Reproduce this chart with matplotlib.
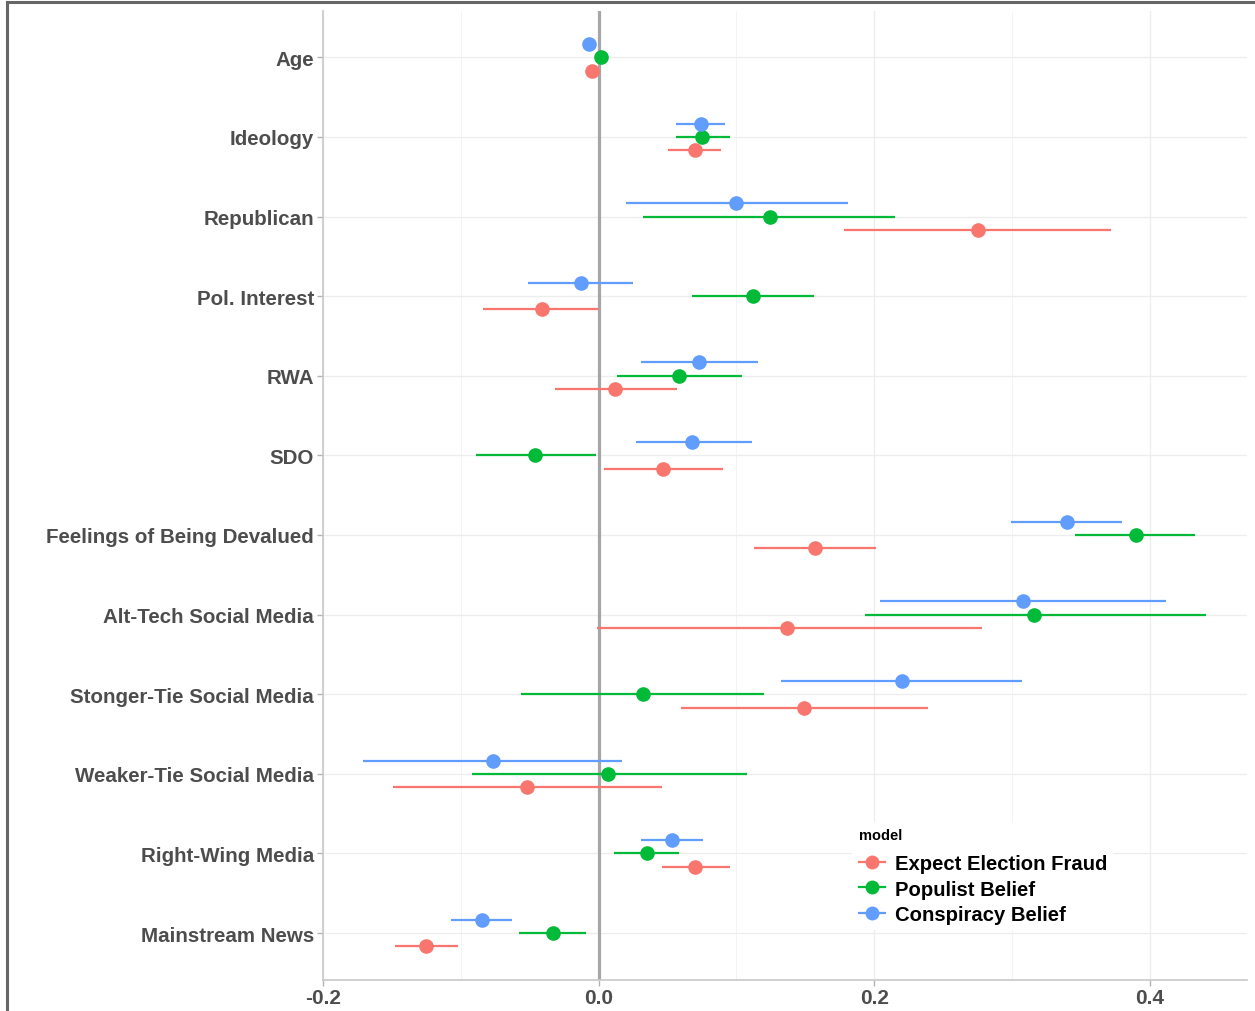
import matplotlib.pyplot as plt
import numpy as np
from matplotlib.lines import Line2D

plt.rcParams['font.family'] = ['Liberation Sans', 'DejaVu Sans']

# predictors, top to bottom
terms = ['Age', 'Ideology', 'Republican', 'Pol. Interest', 'RWA', 'SDO',
         'Feelings of Being Devalued', 'Alt-Tech Social Media',
         'Stonger-Tie Social Media', 'Weaker-Tie Social Media',
         'Right-Wing Media', 'Mainstream News']

models = ['Expect Election Fraud', 'Populist Belief', 'Conspiracy Belief']
colors = ['#F8766D', '#00BA38', '#619CFF']

# estimates and 95% CIs per model
fraud_est = [-0.005, 0.070, 0.275, -0.041, 0.012, 0.047, 0.157, 0.137, 0.149, -0.052, 0.070, -0.125]
fraud_lo = [-0.007, 0.050, 0.178, -0.084, -0.032, 0.004, 0.113, -0.001, 0.060, -0.149, 0.046, -0.148]
fraud_hi = [-0.003, 0.089, 0.372, 0.000, 0.057, 0.090, 0.201, 0.278, 0.239, 0.046, 0.095, -0.102]

populist_est = [0.0015, 0.075, 0.124, 0.112, 0.058, -0.046, 0.390, 0.316, 0.032, 0.007, 0.035, -0.033]
populist_lo = [0.000, 0.056, 0.032, 0.068, 0.013, -0.089, 0.346, 0.193, -0.056, -0.092, 0.011, -0.058]
populist_hi = [0.003, 0.095, 0.215, 0.156, 0.104, -0.002, 0.433, 0.441, 0.120, 0.108, 0.058, -0.009]

consp_est = [-0.007, 0.074, 0.100, -0.013, 0.073, 0.068, 0.340, 0.308, 0.220, -0.077, 0.053, -0.085]
consp_lo = [-0.009, 0.056, 0.020, -0.051, 0.031, 0.027, 0.299, 0.204, 0.132, -0.171, 0.031, -0.107]
consp_hi = [-0.005, 0.092, 0.181, 0.025, 0.116, 0.111, 0.380, 0.412, 0.307, 0.017, 0.076, -0.063]

series = [(fraud_est, fraud_lo, fraud_hi),
          (populist_est, populist_lo, populist_hi),
          (consp_est, consp_lo, consp_hi)]
offsets = [-0.167, 0.0, 0.167]

fig = plt.figure(figsize=(12.55, 10.12), dpi=100)
ax = fig.add_axes([0.2574, 0.0306, 0.7362, 0.9574])

ypos = np.arange(len(terms))[::-1] + 1

# grid
for v in [-0.1, 0.1, 0.3]:
    ax.axvline(v, color='#f4f4f4', lw=0.7, zorder=0)
for v in [-0.2, 0.2, 0.4]:
    ax.axvline(v, color='#ededed', lw=0.9, zorder=0)
for y in ypos:
    ax.axhline(y, color='#ededed', lw=0.9, zorder=0)

ax.axvline(0, color='#a6a6a6', lw=2.3, zorder=1)

for (est, lo, hi), off, c, name in zip(series, offsets, colors, models):
    y = ypos + off
    ax.hlines(y, lo, hi, color=c, lw=1.6, zorder=2)
    ax.plot(est, y, 'o', color=c, ms=9.5, zorder=3, label=name)

ax.set_xlim(-0.2, 0.4705)
ax.set_ylim(0.41, 12.58)
ax.set_yticks(ypos)
ax.set_yticklabels(terms, fontsize=14.8, fontweight='bold')
ax.set_xticks([-0.2, 0.0, 0.2, 0.4])
ax.set_xticklabels(['-0.2', '0.0', '0.2', '0.4'], fontsize=15, fontweight='bold')
ax.tick_params(axis='both', colors='#b3b3b3', length=4, width=1)
for lab in ax.get_xticklabels() + ax.get_yticklabels():
    lab.set_color('#4d4d4d')
ax.tick_params(axis='y', pad=2.5)
ax.tick_params(axis='x', pad=2)

for s in ['top', 'right']:
    ax.spines[s].set_visible(False)
for s in ['left', 'bottom']:
    ax.spines[s].set_color('#c8c8c8')
    ax.spines[s].set_linewidth(1.2)

handles = [Line2D([0], [0], color=c, lw=1.6, marker='o', ms=9) for c in colors]
leg = ax.legend(handles, models, title='model', loc='lower left',
                bbox_to_anchor=(0.562, 0.0415), frameon=True, framealpha=1,
                edgecolor='none', fontsize=14.6, handlelength=1.3,
                handletextpad=0.5, labelspacing=0.3, borderpad=0.3)
for t in leg.get_texts():
    t.set_fontweight('bold')
leg.get_title().set_fontsize(10.5)
leg.get_title().set_fontweight('bold')
leg._legend_box.align = 'left'
leg._legend_box.sep = 9

# screenshot frame
fig.add_artist(Line2D([0.0056, 0.0056], [0, 0.997], color='#666666', lw=2.2))
fig.add_artist(Line2D([0.0056, 1.0], [0.997, 0.997], color='#666666', lw=2.2))

fig.savefig('out.png', dpi=100)
